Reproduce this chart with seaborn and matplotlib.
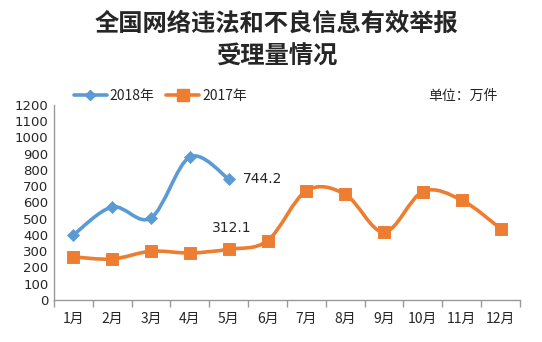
import numpy as np
import pandas as pd
import matplotlib
matplotlib.use("Agg")
import matplotlib.pyplot as plt
from matplotlib.path import Path
from matplotlib.patches import PathPatch
from matplotlib.lines import Line2D
import seaborn as sns

months = ["1月", "2月", "3月", "4月", "5月", "6月", "7月", "8月", "9月", "10月", "11月", "12月"]
v2018 = [400, 572, 505, 880, 744.2]
v2017 = [265, 252, 300, 289, 312.1, 365, 672, 650, 417, 667, 614, 439]
yticks = list(range(0, 1201, 100))

sns.set_theme(style="white")
plt.rcParams['font.family'] = ['Noto Sans CJK SC', 'DejaVu Sans']

C18 = "#5B9BD5"
C17 = "#ED7D31"

fig = plt.figure(figsize=(5.42, 3.42), dpi=100)
ax = fig.add_axes([0.0996, 0.123, 0.8598, 0.570])

def smooth_path(xs, ys, t=1/6):
    xs = np.asarray(xs, float); ys = np.asarray(ys, float)
    n = len(xs)
    verts = [(xs[0], ys[0])]
    codes = [Path.MOVETO]
    for i in range(n - 1):
        p0 = (xs[i-1], ys[i-1]) if i > 0 else (xs[i], ys[i])
        p1 = (xs[i], ys[i]); p2 = (xs[i+1], ys[i+1])
        p3 = (xs[i+2], ys[i+2]) if i + 2 < n else p2
        c1 = (p1[0] + (p2[0]-p0[0])*t, p1[1] + (p2[1]-p0[1])*t)
        c2 = (p2[0] - (p3[0]-p1[0])*t, p2[1] - (p3[1]-p1[1])*t)
        verts += [c1, c2, p2]
        codes += [Path.CURVE4]*3
    return Path(verts, codes)

df17 = pd.DataFrame({"x": np.arange(len(v2017)), "y": v2017})
df18 = pd.DataFrame({"x": np.arange(len(v2018)), "y": v2018})

ax.add_patch(PathPatch(smooth_path(df17.x, df17.y), fill=False, edgecolor=C17, lw=2.6, capstyle='round', zorder=2))
ax.add_patch(PathPatch(smooth_path(df18.x, df18.y), fill=False, edgecolor=C18, lw=2.6, capstyle='round', zorder=2))
sns.scatterplot(data=df17, x="x", y="y", marker="s", s=70, color=C17, edgecolor=C17, ax=ax, zorder=3, legend=False)
sns.scatterplot(data=df18, x="x", y="y", marker="D", s=38, color=C18, edgecolor=C18, ax=ax, zorder=3, legend=False)

ax.set_xlim(-0.5, 11.5)
ax.set_ylim(0, 1200)
ax.set_yticks(yticks)
ax.set_yticklabels([str(v) for v in yticks], fontsize=9.5, family=['DejaVu Sans'])
ax.set_xticks(range(12))
ax.set_xticklabels(months, fontsize=10)
ax.set_xticks(np.arange(-0.5, 12, 1), minor=True)
ax.tick_params(axis='x', which='major', length=0, pad=9)
ax.tick_params(axis='x', which='minor', length=5, color='#999999', width=1, direction='out', bottom=True)
ax.tick_params(axis='y', length=0, pad=4)
ax.set_xlabel(""); ax.set_ylabel("")
for s in ["top", "right"]:
    ax.spines[s].set_visible(False)
for s in ["left", "bottom"]:
    ax.spines[s].set_color('#999999')
    ax.spines[s].set_linewidth(1)
ax.grid(False)

ax.annotate(f"{v2018[4]}", (4, v2018[4]), xytext=(10, 0), textcoords='offset points',
            fontsize=10, va='center', ha='left', family=['DejaVu Sans'])
ax.annotate(f"{v2017[4]}", (4, v2017[4]), xytext=(2, 15), textcoords='offset points',
            fontsize=10, va='center', ha='center', family=['DejaVu Sans'])

fig.text(0.511, 0.930, "全国网络违法和不良信息有效举报", fontsize=17.5, fontweight='bold', ha='center', va='center')
fig.text(0.511, 0.833, "受理量情况", fontsize=17.5, fontweight='bold', ha='center', va='center')

handles = [Line2D([0], [0], color=C18, lw=2.6, marker='D', markersize=5),
           Line2D([0], [0], color=C17, lw=2.6, marker='s', markersize=8)]
fig.legend(handles, ["2018年", "2017年"], loc='center left', bbox_to_anchor=(0.113, 0.72),
           ncol=2, frameon=False, fontsize=10, handlelength=2.4, handletextpad=0.2, columnspacing=0.8)
fig.text(0.79, 0.72, "单位：万件", fontsize=10, ha='left', va='center')

fig.savefig("out.png", dpi=100)
